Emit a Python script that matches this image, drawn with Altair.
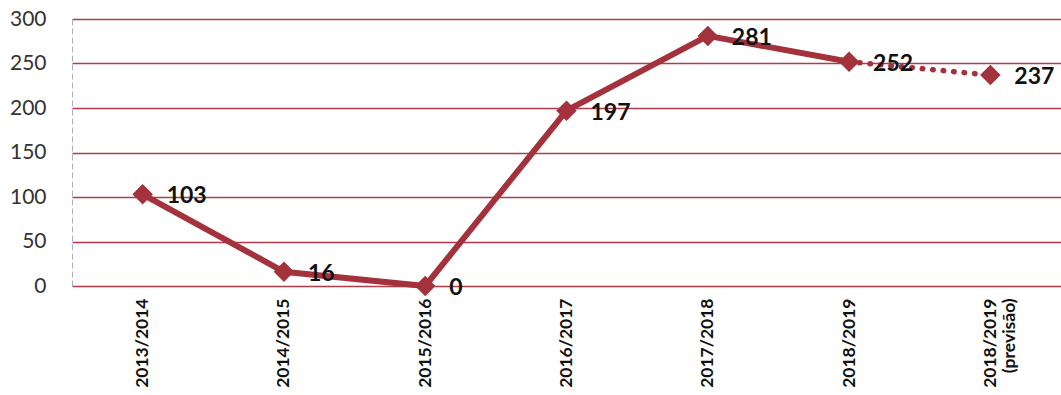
import altair as alt
import pandas as pd

# School years and counts
seasons = ["2013/2014", "2014/2015", "2015/2016", "2016/2017",
           "2017/2018", "2018/2019", "2018/2019 (previsão)"]
counts = [103, 16, 0, 197, 281, 252, 237]
y_ticks = [0, 50, 100, 150, 200, 250, 300]

RED = "#a4323c"
FONT = "Lato"

df = pd.DataFrame({"season": seasons, "count": counts})
actual = df.iloc[:6]
forecast = df.iloc[5:]

x_enc = alt.X(
    "season:N",
    sort=seasons,
    title=None,
    scale=alt.Scale(type="point", padding=0.5),
    axis=alt.Axis(
        labelAngle=270,
        labelFont=FONT,
        labelFontSize=17.5,
        labelFontWeight="bold",
        labelColor="#111111",
        labelPadding=12,
        labelLineHeight=19,
        labelExpr="datum.value == '2018/2019 (previsão)' ? ['2018/2019', '(previsão)'] : datum.value",
        ticks=False,
        domain=False,
        grid=False,
    ),
)
y_enc = alt.Y(
    "count:Q",
    title=None,
    scale=alt.Scale(domain=[0, 300], nice=False),
    axis=alt.Axis(
        values=y_ticks,
        labelFont=FONT,
        labelFontSize=21,
        labelColor="#333333",
        labelPadding=26,
        ticks=False,
        domainColor="#a9acd0",
        domainDash=[6, 3],
        domainWidth=1,
        gridColor="#b03c47",
        gridWidth=1.4,
    ),
)

solid = alt.Chart(actual).mark_line(color=RED, strokeWidth=6).encode(x=x_enc, y=y_enc)
dotted = alt.Chart(forecast).mark_line(
    color=RED, strokeWidth=5.5, strokeDash=[0.5, 10], strokeCap="round"
).encode(x=x_enc, y=y_enc)
points = alt.Chart(df).mark_point(
    shape="diamond", filled=True, size=420, color=RED, opacity=1
).encode(x=x_enc, y=y_enc)
labels = alt.Chart(df).mark_text(
    align="left", baseline="middle", dx=24, dy=2,
    font=FONT, fontSize=23, fontWeight="bold", color="#111111"
).encode(x=x_enc, y=y_enc, text="count:Q")

chart = (
    alt.layer(solid, dotted, points, labels)
    .properties(
        width=989,
        height=267,
        autosize=alt.AutoSizeParams(type="none"),
        padding={"left": 72, "top": 19, "right": 0, "bottom": 109},
        background="white",
    )
    .configure_view(stroke=None)
)

chart.save("out.html", embed_options={"renderer": "svg", "actions": False})
